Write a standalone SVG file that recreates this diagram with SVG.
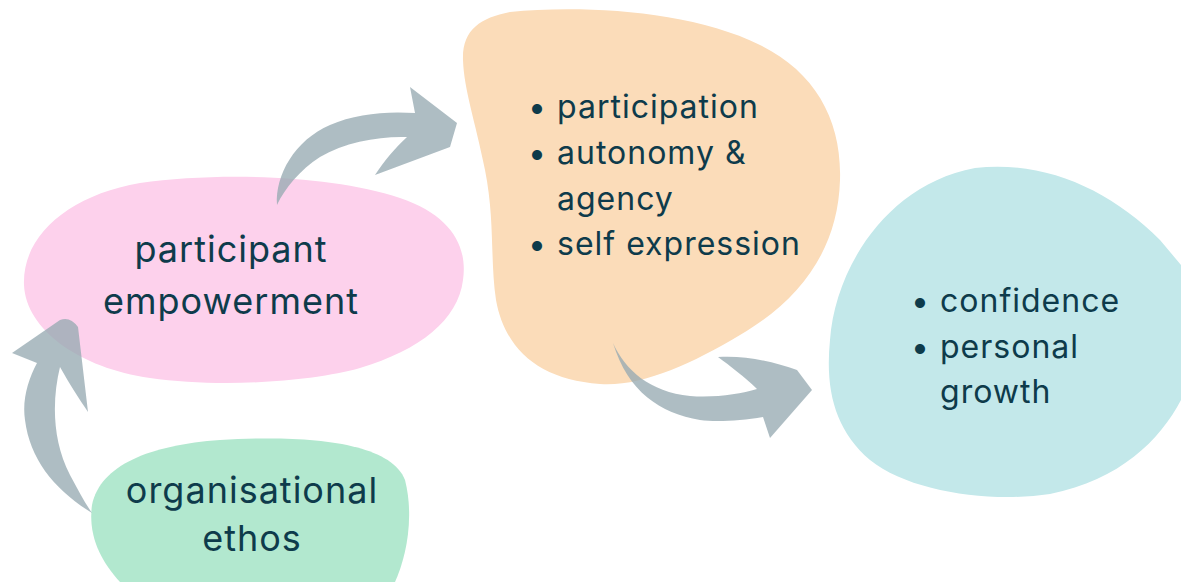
<svg xmlns="http://www.w3.org/2000/svg" width="1181" height="582" viewBox="0 0 1181 582">
<style>
text{font-family:Inter,Lato,sans-serif;fill:#0e3b4b;letter-spacing:1px;}
.big{font-size:36px;}
.mid{font-size:32px;}
.arrow{fill:#97abb2;fill-opacity:0.78;}
</style>
<rect width="1181" height="582" fill="#ffffff"/>
<g id="node-empowerment">
<path d="M24,285 C22,235 70,195 140,183 C220,172 330,175 400,198 C450,215 468,245 463,280 C458,320 420,350 360,368 C310,382 220,388 150,378 C80,368 26,330 24,285 Z" fill="#fdd1ec"/>
<text class="big" x="231" y="262" text-anchor="middle">participant</text>
<text class="big" x="231" y="314" text-anchor="middle">empowerment</text>
</g>
<g id="node-participation">
<path d="M463,60 C462,30 480,18 510,12 C580,5 690,10 760,45 C815,72 842,120 840,180 C838,250 800,300 740,335 C690,365 640,387 600,384 C540,380 505,350 496,300 C490,260 495,220 485,170 C475,120 464,90 463,60 Z" fill="#fbdcb9"/>
<text class="mid" x="528" y="118">• participation</text>
<text class="mid" x="528" y="164">• autonomy &amp;</text>
<text class="mid" x="557" y="210">agency</text>
<text class="mid" x="528" y="255">• self expression</text>
</g>
<g id="node-confidence">
<path d="M975,168 C1045,160 1110,190 1160,240 L1181,265 L1181,400 C1160,440 1120,480 1050,494 C990,503 910,492 870,460 C835,430 825,390 830,340 C835,270 885,185 975,168 Z" fill="#c3e8ea"/>
<text class="mid" x="911" y="312">• confidence</text>
<text class="mid" x="911" y="358">• personal</text>
<text class="mid" x="940" y="403">growth</text>
</g>
<g id="node-ethos">
<path d="M92,505 C100,465 150,445 220,440 C300,435 390,440 405,480 C415,520 405,560 395,582 L120,582 C100,560 88,535 92,505 Z" fill="#b2e8cf"/>
<text class="big" x="252" y="503" text-anchor="middle">organisational</text>
<text class="big" x="252" y="551" text-anchor="middle">ethos</text>
</g>
<g id="connectors">
<path class="arrow" d="M277,205 C275,175 295,140 330,125 C355,114 385,111 415,113 L410,87 L457,123 L450,147 L375,175 C385,160 395,148 407,137 C380,136 345,142 320,157 C300,170 285,188 277,205 Z"/>
<path class="arrow" d="M92,513 C55,490 30,460 25,420 C22,400 28,380 37,363 L12,353 L60,320 Q70,316 78,327 L88,412 C80,400 70,385 60,367 C52,400 52,440 70,475 C78,490 85,503 92,513 Z"/>
<path class="arrow" d="M613,343 C625,370 650,392 690,396 C715,398 740,394 757,389 C745,377 730,366 718,357 C745,355 775,362 797,370 L812,390 L770,438 L763,417 C740,421 715,422 700,420 C660,413 628,392 613,343 Z"/>
</g>
</svg>
